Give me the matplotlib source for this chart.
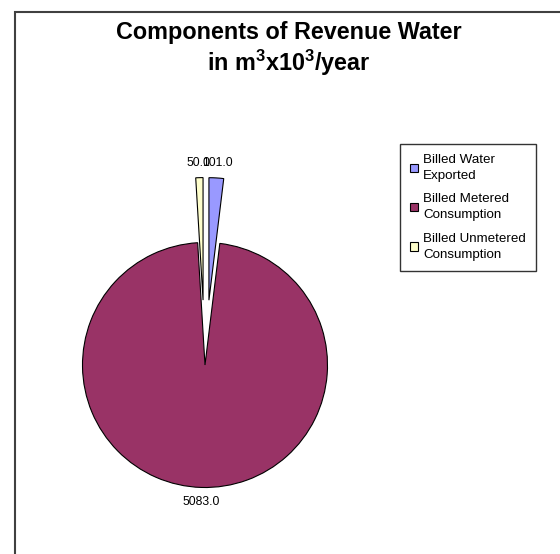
import matplotlib
matplotlib.use("Agg")
import matplotlib.pyplot as plt
from matplotlib.patches import Rectangle

plt.rcParams['font.family'] = ['Liberation Sans', 'DejaVu Sans']
plt.rcParams['mathtext.fontset'] = 'custom'
plt.rcParams['mathtext.rm'] = 'Liberation Sans'
plt.rcParams['mathtext.bf'] = 'Liberation Sans:bold'

# data
categories = ["Billed Water\nExported", "Billed Metered\nConsumption", "Billed Unmetered\nConsumption"]
values = [101.0, 5083.0, 50.0]
colors = ["#9999FF", "#993366", "#FFFFCC"]

W, H = 560, 554
R = 122.5
explode = [0.53 * R, 0.0, 0.53 * R]  # pie() takes explode in data units here

fig = plt.figure(figsize=(W / 100, H / 100), dpi=100)
ax = fig.add_axes([0, 0, 1, 1])

# chart frame (runs off right and bottom edges)
ax.add_patch(Rectangle((15, -50), 700, H - 12 + 50, fill=False,
                       edgecolor="#404040", linewidth=1.5))

wedges, texts = ax.pie(values, labels=["%.1f" % v for v in values],
                       colors=colors, explode=explode, startangle=90,
                       counterclock=False, center=(205, H - 365), radius=R,
                       labeldistance=1.12, frame=True,
                       wedgeprops=dict(edgecolor="black", linewidth=0.8),
                       textprops=dict(fontsize=8.7, color="black"))
for t in texts:
    t.set_ha('center')
ax.set_xlim(0, W)
ax.set_ylim(0, H)
ax.set_aspect('equal')
ax.axis('off')

fig.text(289 / W, 1 - 32 / H, "Components of Revenue Water", ha='center', va='center',
         fontsize=16.8, fontweight='bold')
fig.text(289 / W, 1 - 63 / H, r"in m$^\mathbf{3}$x10$^\mathbf{3}$/year", ha='center',
         va='center', fontsize=16.8, fontweight='bold')

leg = ax.legend(wedges, categories, loc='upper left',
                bbox_to_anchor=(400 / W, 1 - 144 / H), bbox_transform=fig.transFigure,
                fontsize=9.6, frameon=True, fancybox=False, edgecolor="black",
                handlelength=0.6, handleheight=0.6, handletextpad=0.4,
                labelspacing=0.85, borderpad=0.75, borderaxespad=0)
for t in leg.get_texts():
    t.set_linespacing(1.45)
leg.get_frame().set_linewidth(1.0)

fig.savefig("out.png", dpi=100)
